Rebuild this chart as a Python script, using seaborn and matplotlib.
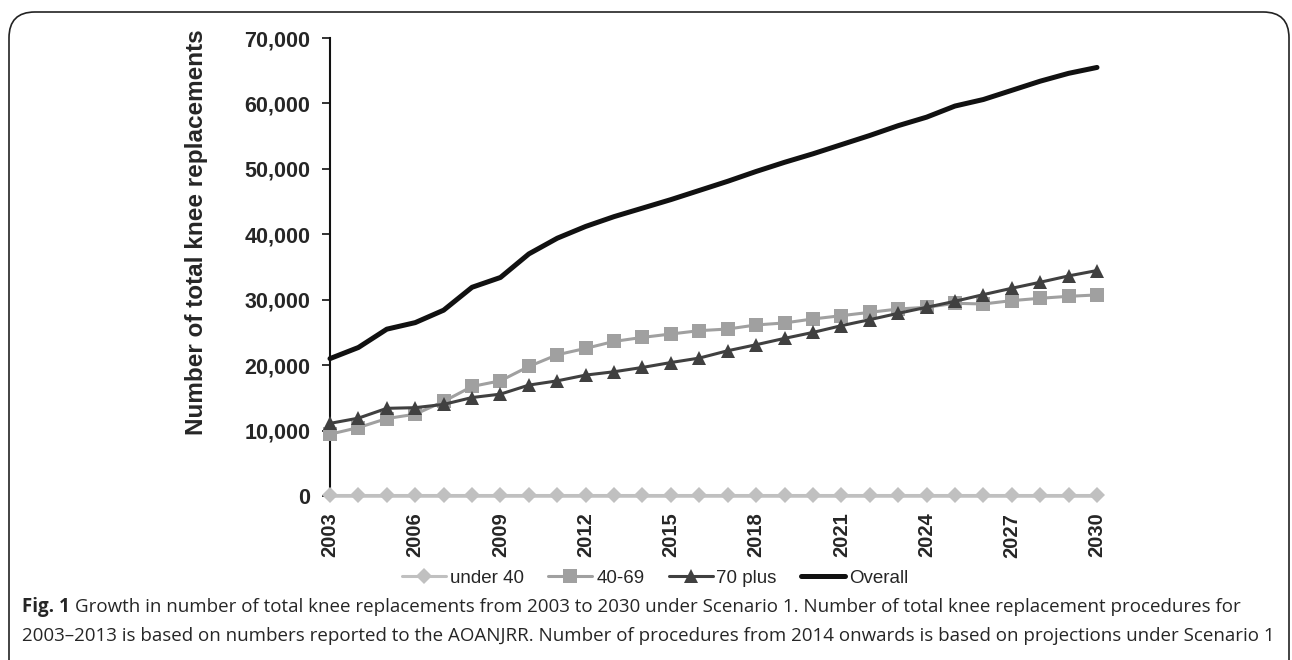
import numpy as np
import pandas as pd
import matplotlib.pyplot as plt
import matplotlib.ticker as mticker
from matplotlib.patches import FancyBboxPatch
import seaborn as sns

# data
years = list(range(2003, 2031))
under_40 = [100, 100, 100, 100, 100, 100, 100, 100, 100, 100, 100, 100, 100, 100,
            100, 100, 100, 100, 100, 100, 100, 100, 100, 100, 100, 100, 100, 100]
age_40_69 = [9440, 10460, 11840, 12500, 14450, 16740, 17610, 19800, 21590, 22560,
             23630, 24240, 24760, 25270, 25520, 26140, 26450, 27060, 27560, 28070,
             28580, 28840, 29450, 29350, 29860, 30220, 30520, 30730]
age_70_plus = [11100, 11900, 13400, 13500, 14000, 15050, 15570, 16950, 17600, 18480,
               18990, 19650, 20400, 21080, 22200, 23120, 24090, 25000, 26030, 26950,
               27920, 28840, 29760, 30780, 31750, 32670, 33640, 34460]
overall = [21000, 22700, 25500, 26500, 28400, 31900, 33400, 37000, 39400, 41200,
           42700, 44000, 45300, 46700, 48100, 49600, 51000, 52300, 53700, 55100,
           56600, 57900, 59600, 60600, 62000, 63400, 64600, 65500]
series_names = ["under 40", "40-69", "70 plus", "Overall"]
x_ticks = list(range(2003, 2031, 3))

df = pd.DataFrame({"year": years, "under 40": under_40, "40-69": age_40_69,
                   "70 plus": age_70_plus, "Overall": overall})

sns.set_style("white")
plt.rcParams['font.family'] = ['Liberation Sans', 'DejaVu Sans']

fig = plt.figure(figsize=(12.92, 6.6), dpi=100)
ax = fig.add_axes([330 / 1292, 1 - 496 / 660, 767 / 1292, 458 / 660])

styles = {
    "under 40": dict(color="#c0c0c0", marker="D", markersize=8, lw=2.2),
    "40-69": dict(color="#a0a0a0", marker="s", markersize=10, lw=2.2),
    "70 plus": dict(color="#404040", marker="^", markersize=10, lw=2.2),
    "Overall": dict(color="#111111", marker=None, markersize=0, lw=3.6),
}
for name in series_names:
    st = styles[name]
    sns.lineplot(data=df, x="year", y=name, ax=ax, color=st["color"], lw=st["lw"],
                 marker=st["marker"], markersize=st["markersize"],
                 markeredgecolor=st["color"], markeredgewidth=0,
                 label=name, clip_on=False, zorder=3)

ax.set_xlim(2003, 2030)
ax.set_ylim(0, 70000)
ax.set_xticks(x_ticks)
ax.set_xticklabels([str(y) for y in x_ticks], rotation=90, fontsize=14.5, fontweight="bold")
ax.set_yticks(range(0, 70001, 10000))
ax.yaxis.set_major_formatter(mticker.FuncFormatter(lambda v, p: f"{int(v):,}"))
for lbl in ax.get_yticklabels():
    lbl.set_fontsize(15.5)
    lbl.set_fontweight("bold")
ax.tick_params(axis="y", length=6, width=1.2, color="#111111", left=True, pad=8)
ax.tick_params(axis="x", length=0, pad=12)
sns.despine(ax=ax, top=True, right=True)
ax.spines["left"].set_color("#111111")
ax.spines["left"].set_linewidth(1.5)
ax.spines["bottom"].set_color("#111111")
ax.spines["bottom"].set_linewidth(1.0)
ax.set_xlabel("")
ax.set_ylabel("Number of total knee replacements", fontsize=17.5, fontweight="bold")
ax.yaxis.set_label_coords((208 - 330) / 767, 0.575)

ax.legend(loc="center", bbox_to_anchor=(0.424, -0.18), ncol=4, frameon=False,
          fontsize=13.5, handlelength=2.35, handletextpad=0.2, columnspacing=1.3,
          borderaxespad=0)

# caption
cap_font = ["Open Sans", "DejaVu Sans"]
fig_lbl = fig.text(22 / 1292, 1 - 607 / 660, "Fig. 1", fontsize=13.5, fontweight="bold",
                   family=cap_font, va="center")
fig.canvas.draw()
bb = fig_lbl.get_window_extent()
fig.text((bb.x1 + 5) / 1292, 1 - 607 / 660,
         "Growth in number of total knee replacements from 2003 to 2030 under Scenario 1. "
         "Number of total knee replacement procedures for",
         fontsize=13.5, family=cap_font, va="center")
fig.text(22 / 1292, 1 - 636 / 660,
         "2003\u20132013 is based on numbers reported to the AOANJRR. Number of procedures "
         "from 2014 onwards is based on projections under Scenario 1",
         fontsize=13.5, family=cap_font, va="center")

# rounded frame around the figure
frame = FancyBboxPatch((9 / 1292, -0.05), 1280 / 1292, (660 - 12) / 660 + 0.05,
                       boxstyle="round,pad=0,rounding_size=0.02",
                       transform=fig.transFigure, fill=False, ec="#222222", lw=1.2,
                       mutation_aspect=1292 / 660)
fig.patches.append(frame)

fig.savefig("out.png", dpi=100)
